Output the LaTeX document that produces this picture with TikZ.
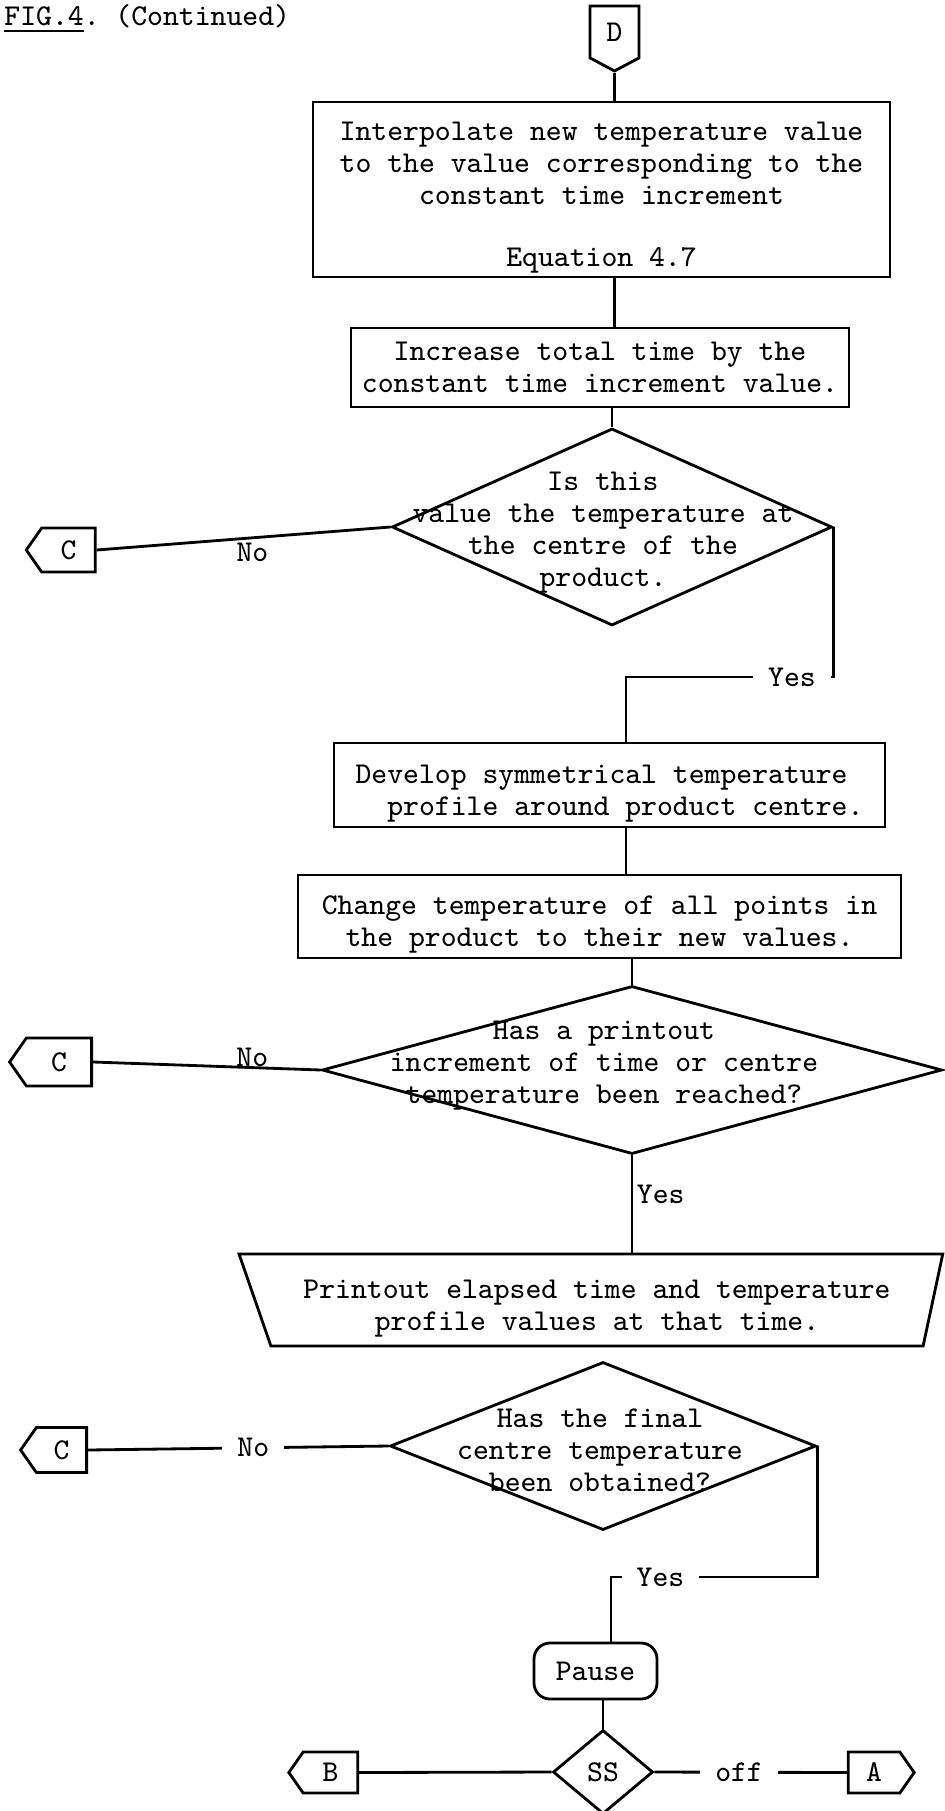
\documentclass[tikz,border=0pt]{standalone}
\usepackage{tikz}
\usetikzlibrary{shapes.geometric,shapes.symbols}

% typed text sits a little low in its box
\newcommand{\boxtop}{\rule{0pt}{10pt}}

\begin{document}
\frenchspacing
\begin{tikzpicture}[
  font=\fontsize{8.6}{9.1}\selectfont\ttfamily,
  line width=0.8pt,
  proc/.style={draw, rectangle, align=center, inner xsep=2pt, inner ysep=0pt},
  decision/.style={draw, diamond, inner sep=0pt},
  dectext/.style={align=center, inner sep=0pt},
  offpage/.style={draw, signal, signal from=nothing, signal pointer angle=110, inner sep=1pt},
  printout/.style={draw, trapezium, shape border rotate=180, trapezium left angle=76,
    trapezium right angle=68, trapezium stretches=true, align=center, inner ysep=0pt},
  term/.style={draw, rounded corners=0.16cm, align=center, inner sep=0pt},
  gap/.style={fill=white, inner ysep=1pt, inner xsep=0.15cm}
]
\useasboundingbox (0,0) rectangle (9.44,-18.11);

% heading
\node[anchor=west, inner sep=0pt] (title) at (0.03,-0.19) {\underline{FIG.4}. (Continued)};

% entry from page connector D
\node[offpage, signal to=south, signal pointer angle=124, minimum width=0.49cm, minimum height=0.58cm] (dconn) at (6.145,-0.32) {D};
\node[proc, minimum width=5.77cm, minimum height=1.75cm] (interp) at (6.015,-1.895)
  {\boxtop Interpolate new temperature value\\to the value corresponding to the\\constant time increment\\[8.5pt]Equation 4.7};
\node[proc, minimum width=4.98cm, minimum height=0.79cm] (inctime) at (6.00,-3.675)
  {Increase total time by the\\constant time increment value.};

% first test: centre value?
\node[decision, minimum width=4.40cm, minimum height=1.97cm] (centre) at (6.12,-5.27) {};
\node[dectext] (centretxt) at (6.03,-5.33) {Is this\\value the temperature at\\the centre of the\\product.};
\node[offpage, signal to=west, minimum width=0.69cm, minimum height=0.44cm] (c1) at (0.685,-5.50) {C};
\coordinate (yes1) at (6.26,-6.77);

\node[proc, align=left, minimum width=5.51cm, minimum height=0.84cm] (develop) at (6.095,-7.85)
  {\boxtop Develop symmetrical temperature\\\ \ profile around product centre.};
\node[proc, minimum width=6.03cm, minimum height=0.83cm] (change) at (5.995,-9.165)
  {\boxtop Change temperature of all points in\\the product to their new values.};

% second test: printout due?
\node[decision, minimum width=6.20cm, minimum height=1.68cm] (printinc) at (6.32,-10.70) {};
\node[dectext] (printinctxt) at (6.04,-10.66) {Has a printout\\increment of time or centre\\temperature been reached?};
\node[offpage, signal to=west, minimum width=0.82cm, minimum height=0.48cm] (c2) at (0.59,-10.62) {C};

\node[printout, minimum width=7.05cm, minimum height=0.92cm] (printout) at (5.97,-13.00)
  {\boxtop Printout elapsed time and temperature\\profile values at that time.};

% third test: final temperature?
\node[decision, minimum width=4.26cm, minimum height=1.68cm] (final) at (6.03,-14.46) {};
\node[dectext] (finaltxt) at (6.00,-14.50) {Has the final\\centre temperature\\been obtained?};
\node[offpage, signal to=west, minimum width=0.66cm, minimum height=0.45cm] (c3) at (0.615,-14.50) {C};
\coordinate (yes3) at (6.11,-15.77);

\node[term, minimum width=1.23cm, minimum height=0.56cm] (pause) at (5.955,-16.71) {Pause};
\node[decision, minimum width=1.00cm, minimum height=0.84cm] (ss) at (6.03,-17.72) {SS};
\node[offpage, signal to=west, minimum width=0.69cm, minimum height=0.41cm] (bconn) at (3.305,-17.725) {B};
\node[offpage, signal to=east, minimum width=0.66cm, minimum height=0.41cm] (aconn) at (8.74,-17.725) {A};

% connectors
\draw (dconn.south) -- (dconn.south |- interp.north);
\draw (interp.south -| dconn.south) -- (inctime.north -| dconn.south);
\draw (inctime.south -| centre.north) -- (centre.north);
\draw (centre.west) -- node[below, pos=0.47, inner sep=1pt] {No} (c1.east);
\draw (centre.east) |- node[gap, pos=0.6] {Yes} (yes1) -- (yes1 |- develop.north);
\draw (develop.south -| yes1) -- (change.north -| yes1);
\draw (change.south -| printinc.north) -- (printinc.north);
\draw (printinc.west) -- node[anchor=south, pos=0.30, inner sep=0pt] {No} (c2.east);
\draw (printinc.south) -- node[right, pos=0.4, inner sep=1pt] {Yes} (printinc.south |- printout.north);
\draw (final.west) -- node[gap, pos=0.45] {No} (c3.east);
\draw (final.east) |- node[gap, pos=0.88] {Yes} (yes3) -- (yes3 |- pause.north);
\draw (pause.south -| ss.north) -- (ss.north);
\draw (ss.west) -- (bconn.east);
\draw (ss.east) -- node[gap, pos=0.44] {off} (aconn.west);
\end{tikzpicture}
\end{document}
